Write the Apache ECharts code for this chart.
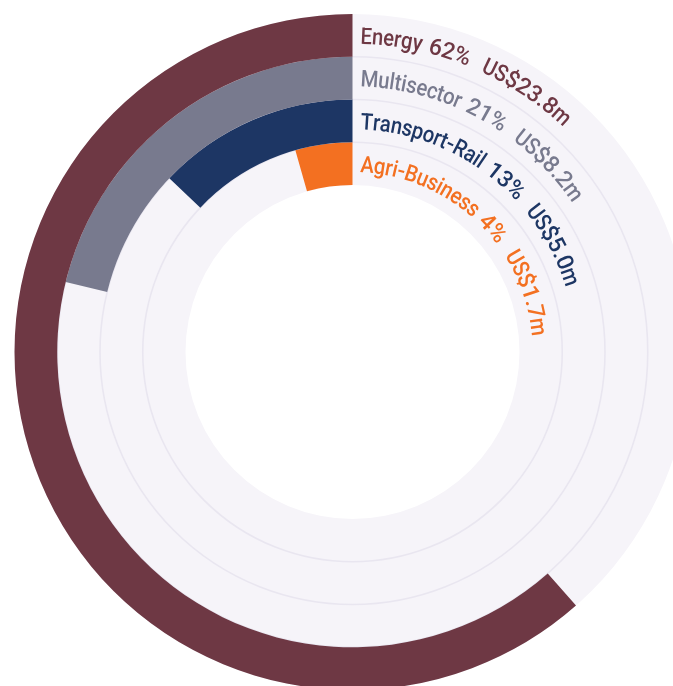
<!DOCTYPE html>
<html>
<head>
<meta charset="utf-8">
<script src="https://cdn.jsdelivr.net/npm/echarts@6/dist/echarts.min.js"></script>
<style>
  html, body { margin: 0; padding: 0; background: #ffffff; }
  #chart { width: 673px; height: 686px; }
</style>
</head>
<body>
<div id="chart"></div>
<script>
// Sectors, inner ring first
const sectors = ['Agri-Business', 'Transport-Rail', 'Multisector', 'Energy'];
const shares = [4, 13, 21, 62];          // % of total
const amounts = [1.7, 5.0, 8.2, 23.8];   // US$ millions
const colors = ['#f37021', '#1d3664', '#787a8e', '#6e3844'];

const total = amounts.reduce((a, b) => a + b, 0);
const CX = 352.5, CY = 352, R_IN = 167, R_OUT = 338;
const BAND = (R_OUT - R_IN) / sectors.length;
const FONT_SIZE = 23;
const FONT = '500 ' + FONT_SIZE + 'px Roboto, "Liberation Sans", sans-serif';
// narrow letterforms, full-width figures
const squeezeOf = (ch) => /[A-Za-z]/.test(ch) ? 0.88 : (ch === ' ' ? 1.25 : 1.0);

const chart = echarts.init(document.getElementById('chart'), null, { renderer: 'canvas' });

const hiddenAngle = (polarIndex) => ({
  polarIndex, type: 'value', min: 0, max: total,
  startAngle: 90, clockwise: false, show: false
});

chart.setOption({
  animation: false,
  polar: [
    { center: [CX, CY], radius: [R_IN, R_OUT] },                 // track + bars
    { center: [CX, CY], radius: [R_IN + BAND, R_OUT - BAND] }    // dividers between rings
  ],
  angleAxis: [hiddenAngle(0), hiddenAngle(1)],
  radiusAxis: [
    {
      polarIndex: 0, z: 0,
      type: 'category', data: sectors,
      axisLine: { show: false }, axisTick: { show: false }, axisLabel: { show: false },
      splitLine: { show: false },
      splitArea: { show: true, areaStyle: { color: ['#f6f4f9'] } }
    },
    {
      polarIndex: 1, z: 1,
      type: 'value', min: 1, max: sectors.length - 1, interval: 1,
      axisLine: { show: false }, axisTick: { show: false }, axisLabel: { show: false },
      splitArea: { show: false },
      splitLine: { show: true, lineStyle: { color: '#e9e6f0', width: 1.6 } }
    }
  ],
  series: [{
    type: 'bar',
    coordinateSystem: 'polar',
    polarIndex: 0,
    z: 2,
    barCategoryGap: '0%',
    data: amounts.map((v, i) => ({ value: v, itemStyle: { color: colors[i] } }))
  }]
});

// Curved labels: one text element per character, laid along each ring clockwise from the top
const ctx = document.createElement('canvas').getContext('2d');
ctx.font = FONT;
const graphics = [];
sectors.forEach((name, i) => {
  const label = name + ' ' + shares[i] + '%  US$' + amounts[i].toFixed(1) + 'm';
  const top = chart.convertToPixel({ seriesIndex: 0 }, [i, 0]);
  const r = CY - top[1] - 2.5;
  let s = 8; // arc length from the ring start
  for (const ch of label) {
    const k = squeezeOf(ch);
    const w = ctx.measureText(ch).width * k;
    const theta = (s + w / 2) / r;
    s += w;
    if (ch === ' ') continue;
    graphics.push({
      type: 'text',
      x: CX + r * Math.sin(theta),
      y: CY - r * Math.cos(theta),
      rotation: -theta,
      scaleX: k,
      z: 10,
      style: {
        text: ch,
        font: FONT,
        fill: colors[i],
        align: 'center',
        verticalAlign: 'middle'
      }
    });
  }
});
chart.setOption({ graphic: graphics });
</script>
</body>
</html>
